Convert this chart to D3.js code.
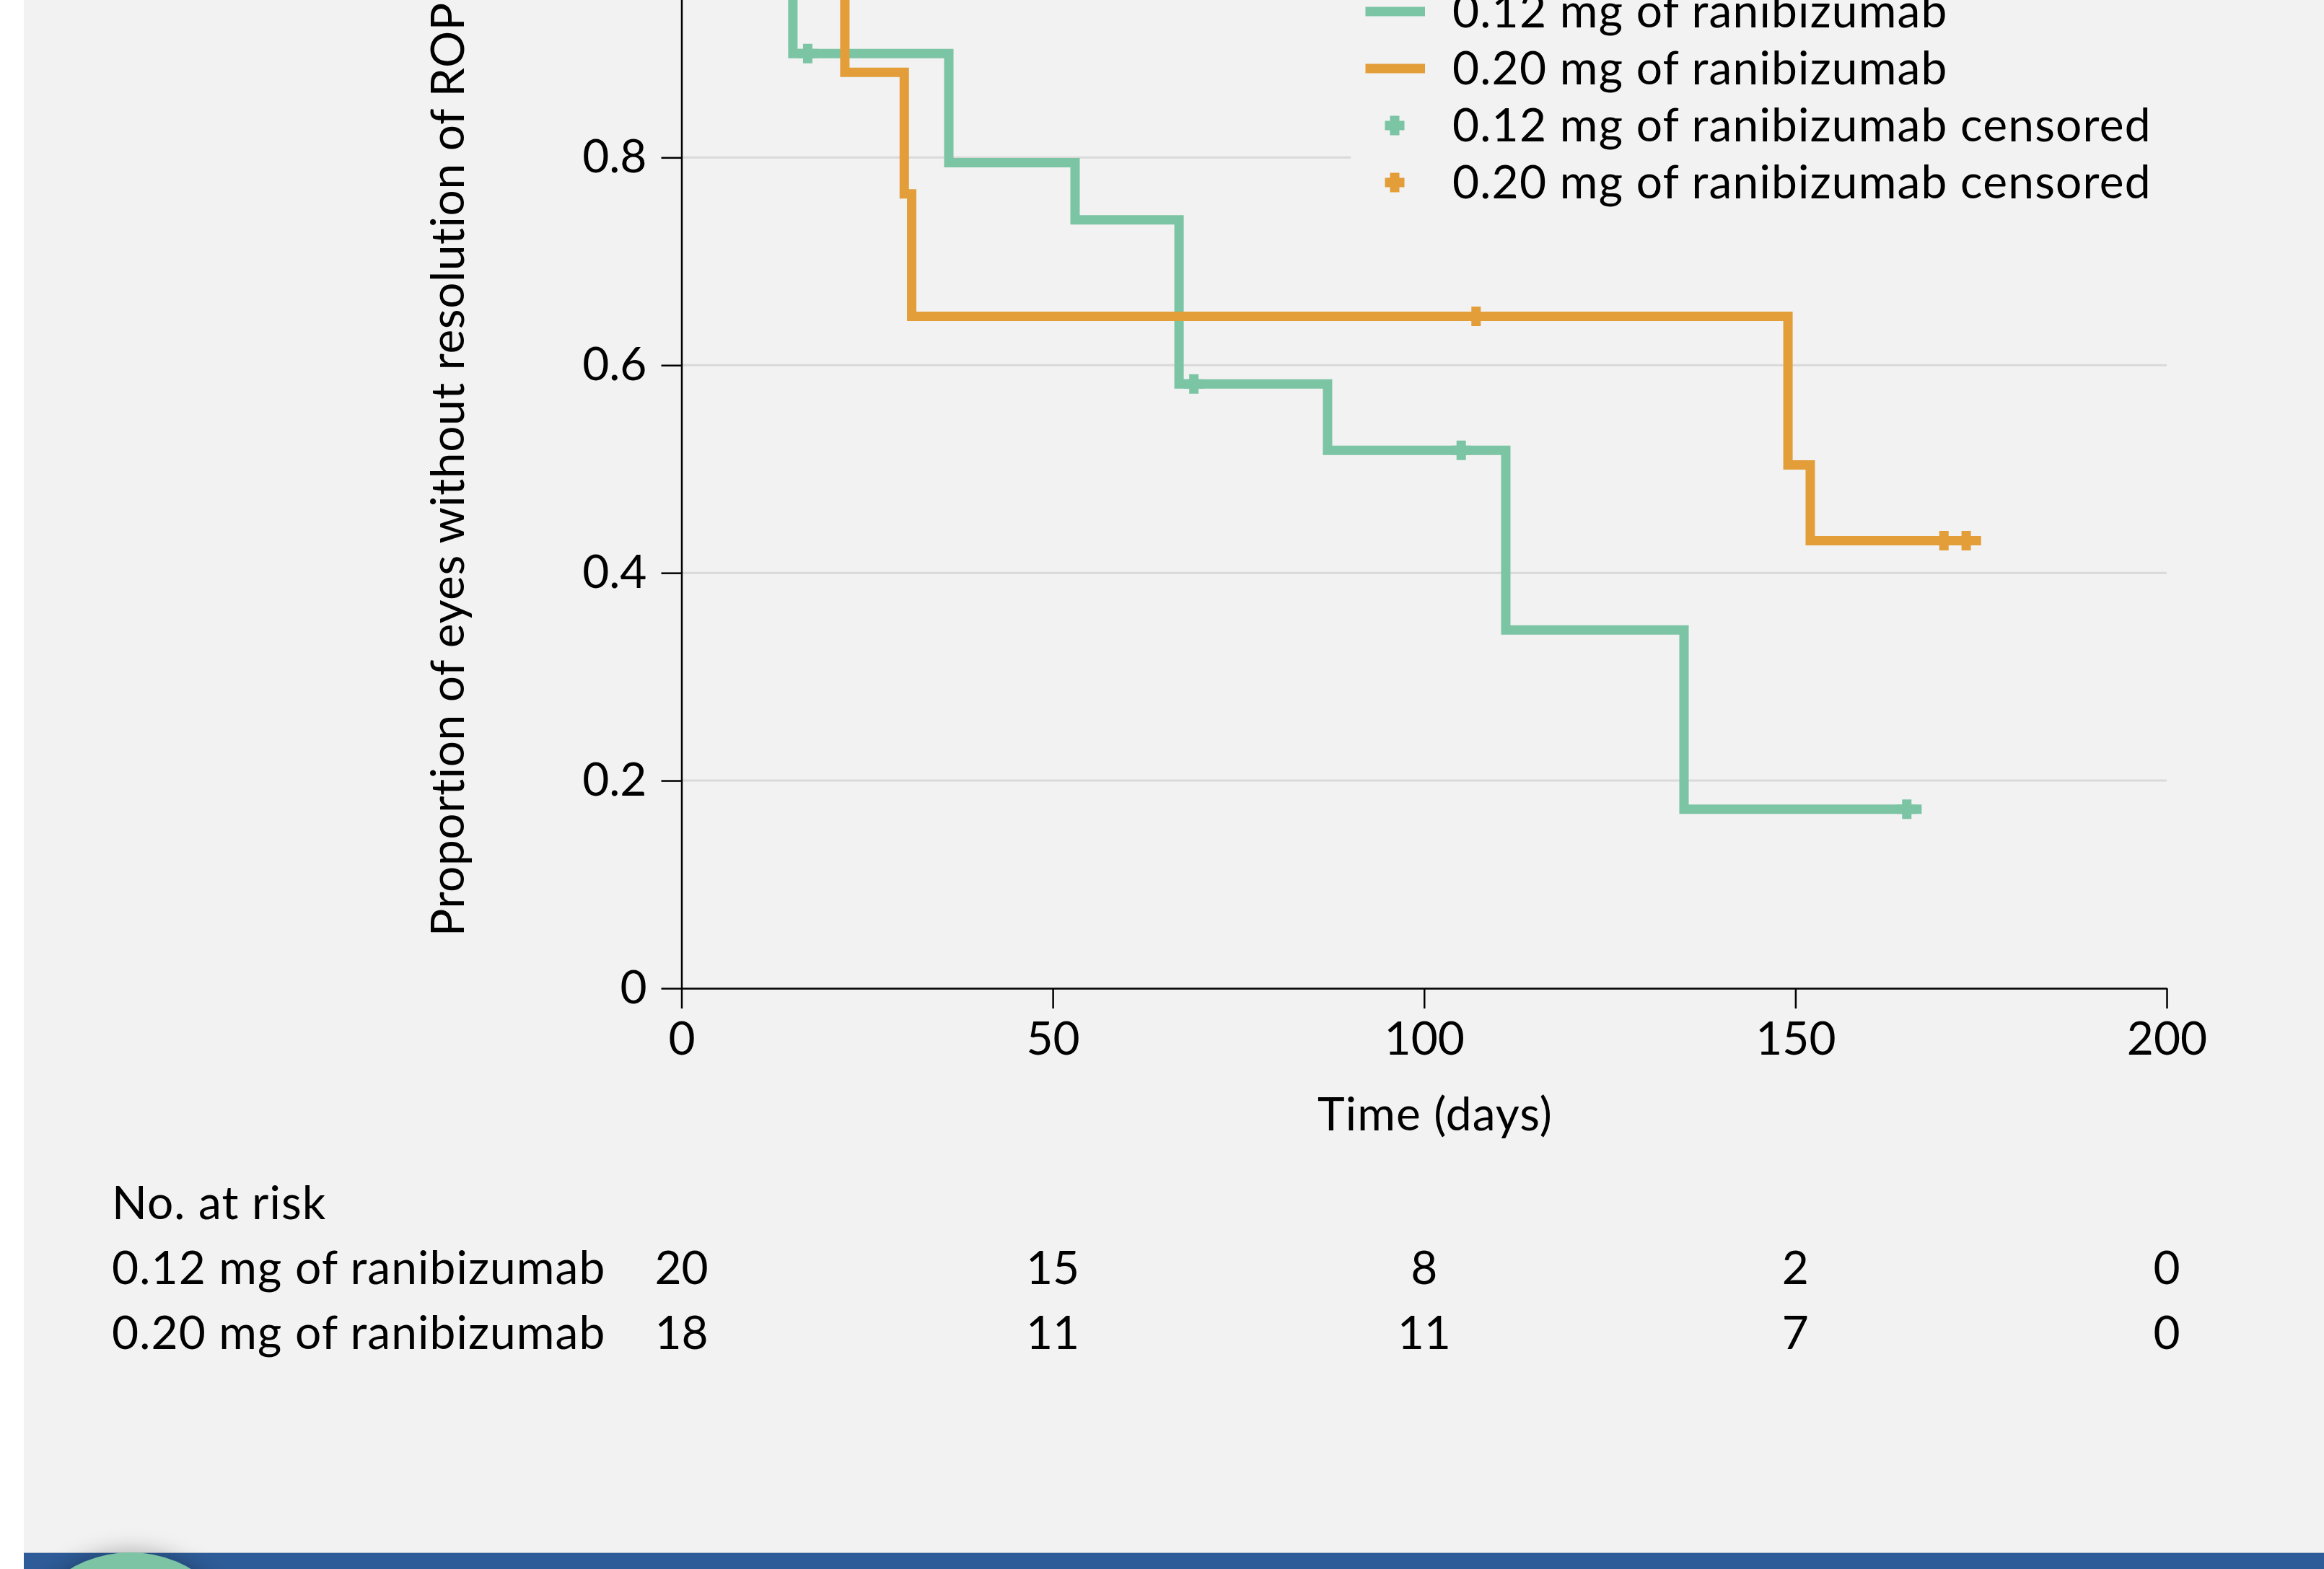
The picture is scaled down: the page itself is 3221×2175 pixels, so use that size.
<!DOCTYPE html>
<html>
<head>
<meta charset="utf-8">
<script src="https://cdn.jsdelivr.net/npm/d3@7"></script>
<style>
    html, body { margin: 0; padding: 0; background: #ffffff; overflow: hidden; }
    svg { display: block; font-family: "Lato", "Open Sans", sans-serif; letter-spacing: 1.1px; }
</style>
</head>
<body>
<svg id="svg"></svg>
<script>
// Kaplan-Meier steps (time in days, proportion without resolution)
const lowDoseTimes = [0, 15, 36, 53, 67, 87, 111, 135, 167];
const lowDoseValues = [1, 0.9, 0.795, 0.74, 0.582, 0.518, 0.345, 0.1725, 0.1725];
const lowDoseCensored = [17, 69, 105, 165];

const highDoseTimes = [0, 22, 30, 31, 149, 152, 175];
const highDoseValues = [1, 0.882, 0.765, 0.647, 0.504, 0.431, 0.431];
const highDoseCensored = [107, 170, 173];

// Tick labels
const xTicks = [0, 50, 100, 150, 200];
const yTicks = [0, 0.2, 0.4, 0.6, 0.8, 1];

// Number at risk table
const riskTimes = [0, 50, 100, 150, 200];
const riskLowDose = [20, 15, 8, 2, 0];
const riskHighDose = [18, 11, 11, 7, 0];

const seriesNames = ["0.12 mg of ranibizumab", "0.20 mg of ranibizumab"];
const legendLabels = [
    "0.12 mg of ranibizumab",
    "0.20 mg of ranibizumab",
    "0.12 mg of ranibizumab censored",
    "0.20 mg of ranibizumab censored"
];

const green = "#7bc4a4";
const orange = "#e39d39";
const panel = "#f2f2f2";
const fontSize = 64;

// SVG Dimensions Variables
let width = 3221, height = 2175;

const svg = d3.select("#svg")
    .attr("width", width)
    .attr("height", height);

// page background: white strip on the left, grey panel
svg.append("rect")
    .attr("x", 33).attr("y", 0)
    .attr("width", width - 33).attr("height", height)
    .attr("fill", panel);

// scales
const x = d3.scaleLinear().domain([0, 200]).range([944.5, 3003]);
const y = d3.scaleLinear().domain([0, 1]).range([1370, 1370 - 1439.6]);

// horizontal grid
svg.append("g")
    .selectAll("line")
    .data(yTicks)
    .enter()
    .append("line")
    .attr("x1", x(0))
    .attr("x2", x(200))
    .attr("y1", (d) => y(d))
    .attr("y2", (d) => y(d))
    .attr("stroke", "#d9d9d9")
    .attr("stroke-width", 3);

// legend box hides the grid behind it
svg.append("rect")
    .attr("x", 1872).attr("y", -80)
    .attr("width", 1140).attr("height", 390)
    .attr("fill", panel);

// axes
const xAxis = d3.axisBottom(x)
    .tickValues(xTicks)
    .tickSize(28)
    .tickSizeOuter(0)
    .tickPadding(19);

const yAxis = d3.axisLeft(y)
    .tickValues(yTicks)
    .tickSize(28)
    .tickSizeOuter(0)
    .tickPadding(20)
    .tickFormat((d) => d === 0 ? "0" : d3.format(".1f")(d));

const gx = svg.append("g")
    .attr("transform", "translate(0," + y(0) + ")")
    .call(xAxis);

const gy = svg.append("g")
    .attr("transform", "translate(" + x(0) + ",0)")
    .call(yAxis);

[gx, gy].forEach((g) => {
    g.selectAll("path, line").attr("stroke", "#000").attr("stroke-width", 2.5);
    g.selectAll("text")
        .attr("fill", "#000")
        .style("font-size", fontSize + "px")
        .style("letter-spacing", "0px")
        .style("font-family", "Lato, sans-serif");
});

// axis titles
svg.append("text")
    .attr("x", 1989)
    .attr("y", 1567)
    .attr("text-anchor", "middle")
    .style("font-size", fontSize + "px")
    .text("Time (days)");

svg.append("text")
    .attr("transform", "translate(643,1298) rotate(-90)")
    .attr("text-anchor", "start")
    .style("font-size", fontSize + "px")
    .style("letter-spacing", "0.6px")
    .text("Proportion of eyes without resolution of ROP");

// survival curves
const stepLine = d3.line()
    .x((d) => x(d[0]))
    .y((d) => y(d[1]))
    .curve(d3.curveStepAfter);

const curves = [
    { times: lowDoseTimes, values: lowDoseValues, censored: lowDoseCensored, color: green },
    { times: highDoseTimes, values: highDoseValues, censored: highDoseCensored, color: orange }
];

// value of a step curve at time t
function survivalAt(curve, t) {
    let v = curve.values[0];
    curve.times.forEach((time, i) => {
        if (time <= t) v = curve.values[i];
    });
    return v;
}

const plusPath = "M-13.5,0H13.5M0,-13.5V13.5";

curves.forEach((curve) => {
    svg.append("path")
        .datum(curve.times.map((t, i) => [t, curve.values[i]]))
        .attr("d", stepLine)
        .attr("fill", "none")
        .attr("stroke", curve.color)
        .attr("stroke-width", 13)
        .attr("stroke-linejoin", "miter")
        .attr("stroke-linecap", "butt");

    svg.append("g")
        .selectAll("path")
        .data(curve.censored)
        .enter()
        .append("path")
        .attr("transform", (t) => "translate(" + x(t) + "," + y(survivalAt(curve, t)) + ")")
        .attr("d", plusPath)
        .attr("stroke", curve.color)
        .attr("stroke-width", 13)
        .attr("fill", "none");
});

// legend
const legendBaselines = [38, 117, 196, 275];
const legend = svg.append("g");

legendLabels.forEach((label, i) => {
    const color = i % 2 === 0 ? green : orange;
    const cy = legendBaselines[i] - 22;
    if (i < 2) {
        legend.append("line")
            .attr("x1", 1892.5).attr("x2", 1975)
            .attr("y1", cy).attr("y2", cy)
            .attr("stroke", color)
            .attr("stroke-width", 13);
    } else {
        legend.append("path")
            .attr("transform", "translate(1933," + cy + ")")
            .attr("d", plusPath)
            .attr("stroke", color)
            .attr("stroke-width", 13)
            .attr("fill", "none");
    }
    legend.append("text")
        .attr("x", 2013)
        .attr("y", legendBaselines[i])
        .style("font-size", fontSize + "px")
        .style("letter-spacing", "1.2px")
        .text(label);
});

// number at risk table
svg.append("text")
    .attr("x", 155).attr("y", 1690)
    .style("font-size", fontSize + "px")
    .text("No. at risk");

[riskLowDose, riskHighDose].forEach((row, r) => {
    const baseline = 1780 + r * 90;
    svg.append("text")
        .attr("x", 155).attr("y", baseline)
        .style("font-size", fontSize + "px")
        .text(seriesNames[r]);

    svg.append("g")
        .selectAll("text")
        .data(row)
        .enter()
        .append("text")
        .attr("x", (d, i) => x(riskTimes[i]))
        .attr("y", baseline)
        .attr("text-anchor", "middle")
        .style("font-size", fontSize + "px")
        .style("letter-spacing", "0px")
        .text((d) => d);
});

// blue banner at the bottom with the round badge
const defs = svg.append("defs");
const shadow = defs.append("filter")
    .attr("id", "shadow")
    .attr("x", "-50%").attr("y", "-50%")
    .attr("width", "200%").attr("height", "200%");
shadow.append("feDropShadow")
    .attr("dx", 0).attr("dy", -4)
    .attr("stdDeviation", 14)
    .attr("flood-color", "#000")
    .attr("flood-opacity", 0.25);

svg.append("rect")
    .attr("x", 33).attr("y", 2152)
    .attr("width", width - 33).attr("height", height - 2152)
    .attr("fill", "#2e5c98");

svg.append("line")
    .attr("x1", 33).attr("x2", width)
    .attr("y1", 2152.5).attr("y2", 2152.5)
    .attr("stroke", "#a9b6c8")
    .attr("stroke-width", 1);

svg.append("circle")
    .attr("cx", 181).attr("cy", 2152 + 165)
    .attr("r", 165)
    .attr("fill", green)
    .attr("filter", "url(#shadow)");
</script>
</body>
</html>
